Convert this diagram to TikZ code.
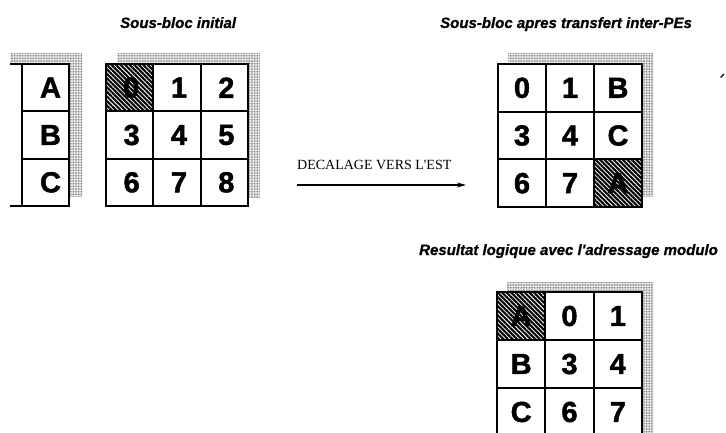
\documentclass[tikz,border=0pt]{standalone}
\usepackage{fontspec}
\newfontfamily\hv[BoldFeatures={FakeBold=1.6}]{Liberation Sans}
\newfontfamily\hvt[BoldItalicFeatures={FakeBold=0.8}]{Liberation Sans}
\newfontfamily\tm{Liberation Serif}
\usetikzlibrary{patterns.meta,arrows.meta}
\begin{document}
\begin{tikzpicture}[x=1pt,y=-1pt,
  cell/.style={draw, line width=1.7pt, inner sep=0pt, font=\hv\bfseries\fontsize{29}{29}\selectfont},
  hatched/.style={pattern={Lines[angle=-45,distance=3.2pt,line width=2.1pt]}, pattern color=black},
  shadow/.style={pattern={Dots[distance=1.6pt,radius=0.6pt]}, pattern color=black!55},
  outer/.style={line width=2.5pt},
  title/.style={font=\hvt\bfseries\itshape\fontsize{15}{15}\selectfont, anchor=base west, inner sep=0pt},
  lbl/.style={font=\tm\fontsize{14}{14}\selectfont, anchor=base west, inner sep=0pt},
  link/.style={line width=1.2pt, -{Stealth[length=9pt,width=5pt]}}
]
\useasboundingbox (0,0) rectangle (726,433);
\clip (0,0) rectangle (726,433);
\fill[white] (0,0) rectangle (726,433);

% titles
\node[title] (t1) at (120,28) {Sous-bloc initial};
\node[title] (t2) at (440,28) {Sous-bloc apres transfert inter-PEs};
\node[title] (t3) at (419,255) {Resultat logique avec l'adressage modulo};

% shadows
\fill[shadow] (10,53) rectangle (82,197);
\fill[shadow] (117,53) rectangle (260,198);
\fill[shadow] (508,53) rectangle (653,197);
\fill[shadow] (507,282) rectangle (653,440);

% white grounds
\fill[white] (10,64) rectangle (69,206);
\fill[white] (106,64) rectangle (248,206);
\fill[white] (498,64) rectangle (642,207);
\fill[white] (497,292) rectangle (642,436);

% left column A B C
\foreach \t [count=\j from 0] in {A,B,C}{
  \node[cell, minimum width=47pt, minimum height=47.33pt] (c\j) at (45.5,{64+47.33*(\j+0.5)}) {\hspace{10pt}\t};
}
\draw[outer] (10,64) -- (69,64) -- (69,206) -- (10,206);
\draw[outer] (22,64) -- (22,206);

% initial grid
\foreach \t [count=\k from 0] in {0,1,2,3,4,5,6,7,8}{
  \pgfmathtruncatemacro{\i}{mod(\k,3)}
  \pgfmathtruncatemacro{\j}{div(\k,3)}
  \ifnum\k=0
    \node[cell, hatched, minimum width=47.33pt, minimum height=47.33pt] (a\k) at ({106+47.33*(\i+0.5)},{64+47.33*(\j+0.5)}) {\hspace{3pt}\t};
  \else
    \node[cell, minimum width=47.33pt, minimum height=47.33pt] (a\k) at ({106+47.33*(\i+0.5)},{64+47.33*(\j+0.5)}) {\hspace{4pt}\t};
  \fi
}
\draw[outer] (106,64) rectangle (248,206);

% after transfer
\foreach \t [count=\k from 0] in {0,1,B,3,4,C,6,7,A}{
  \pgfmathtruncatemacro{\i}{mod(\k,3)}
  \pgfmathtruncatemacro{\j}{div(\k,3)}
  \ifnum\k=8
    \node[cell, hatched, minimum width=48pt, minimum height=47.67pt] (b\k) at ({498+48*(\i+0.5)},{64+47.67*(\j+0.5)}) {\t};
  \else
    \node[cell, minimum width=48pt, minimum height=47.67pt] (b\k) at ({498+48*(\i+0.5)},{64+47.67*(\j+0.5)}) {\t};
  \fi
}
\draw[outer] (498,64) rectangle (642,207);

% modulo result
\foreach \t [count=\k from 0] in {A,0,1,B,3,4,C,6,7}{
  \pgfmathtruncatemacro{\i}{mod(\k,3)}
  \pgfmathtruncatemacro{\j}{div(\k,3)}
  \ifnum\k=0
    \node[cell, hatched, minimum width=48.33pt, minimum height=48pt] (m\k) at ({497+48.33*(\i+0.5)},{292+48*(\j+0.5)}) {\t};
  \else
    \node[cell, minimum width=48.33pt, minimum height=48pt] (m\k) at ({497+48.33*(\i+0.5)},{292+48*(\j+0.5)}) {\t};
  \fi
}
\draw[outer] (497,292) rectangle (642,436);

% shift arrow
\coordinate (s) at (297,185);
\coordinate (e) at (466,185);
\node[lbl] (d) at (297,170) {DECALAGE VERS L'EST};
\draw[link] (s) -- (e);

% small mark
\coordinate (k1) at (720.5,77.5);
\coordinate (k2) at (724,74);
\draw[line width=1.3pt] (k1) -- (k2);
\end{tikzpicture}
\end{document}
